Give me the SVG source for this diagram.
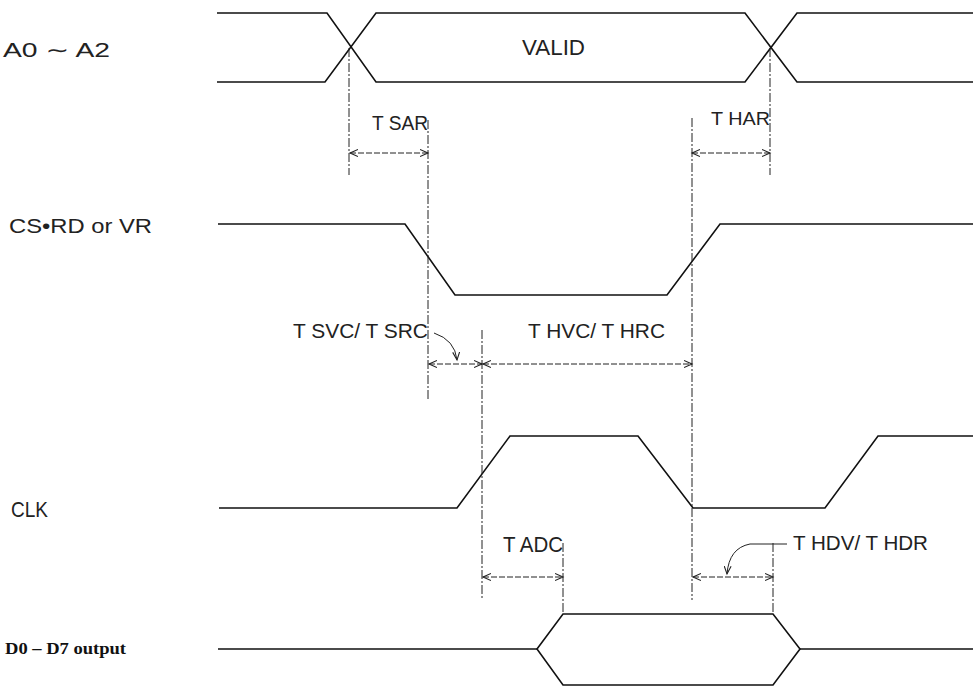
<svg xmlns="http://www.w3.org/2000/svg" width="973" height="686" viewBox="0 0 973 686">
<style>
.sig{fill:none;stroke:#111;stroke-width:1.6;stroke-linejoin:miter}
.ref{fill:none;stroke:#222;stroke-width:1;stroke-dasharray:9,2,2,2}
.dim{fill:none;stroke:#222;stroke-width:1;stroke-dasharray:6,2}
.lead{fill:none;stroke:#222;stroke-width:1}
.lbl{font-family:"Liberation Sans","DejaVu Sans",sans-serif;fill:#222}
.bold{font-family:"Liberation Serif","DejaVu Serif",serif;font-weight:bold;fill:#111}
</style>
<defs>
<marker id="ah" markerWidth="10" markerHeight="8" refX="8" refY="4" orient="auto-start-reverse" markerUnits="userSpaceOnUse">
<path d="M0,0.5 L8,4 L0,7.5" fill="none" stroke="#222" stroke-width="1.1"/>
</marker>
</defs>
<rect width="973" height="686" fill="#fff"/>

<g id="a0a2">
<text class="lbl" x="3" y="57" font-size="20" textLength="107" lengthAdjust="spacingAndGlyphs">A0 ∼ A2</text>
<path class="sig" d="M217,13 L327,13 L376,82 L745,82 L797,13 L973,13"/>
<path class="sig" d="M217,82 L325,82 L376,13 L745,13 L797,82 L973,82"/>
<text class="lbl" x="522" y="55" font-size="22" textLength="63" lengthAdjust="spacingAndGlyphs">VALID</text>
</g>

<g id="csrd">
<text class="lbl" x="9" y="233" font-size="21" textLength="143" lengthAdjust="spacingAndGlyphs">CS•RD or VR</text>
<path class="sig" d="M218,224 L405,224 L455,295 L667,295 L720,224 L973,224"/>
</g>

<g id="clk">
<text class="lbl" x="11" y="517" font-size="22" textLength="37" lengthAdjust="spacingAndGlyphs">CLK</text>
<path class="sig" d="M219,508 L457,508 L510,436 L638,436 L693,508 L825,508 L878,436 L973,436"/>
</g>

<g id="d0d7">
<text class="bold" x="5" y="654" font-size="16" textLength="121" lengthAdjust="spacingAndGlyphs">D0 – D7 output</text>
<path class="sig" d="M218,649 L537,649 M800,649 L973,649"/>
<path class="sig" d="M537,649 L563,614 L773,614 L800,649 L773,685 L563,685 Z"/>
</g>

<g id="connectors">
<line class="ref" x1="349" y1="48" x2="349" y2="175"/>
<line class="ref" x1="428" y1="120" x2="428" y2="400"/>
<line class="ref" x1="692" y1="118" x2="692" y2="600"/>
<line class="ref" x1="770" y1="48" x2="770" y2="175"/>
<line class="ref" x1="482" y1="330" x2="482" y2="600"/>
<line class="ref" x1="563" y1="543" x2="563" y2="613"/>
<line class="ref" x1="773" y1="543" x2="773" y2="613"/>

<line class="dim" x1="350" y1="153" x2="428" y2="153" marker-start="url(#ah)" marker-end="url(#ah)"/>
<line class="dim" x1="692" y1="153" x2="770" y2="153" marker-start="url(#ah)" marker-end="url(#ah)"/>
<line class="dim" x1="429" y1="364" x2="482" y2="364" marker-start="url(#ah)" marker-end="url(#ah)"/>
<line class="dim" x1="483" y1="364" x2="692" y2="364" marker-start="url(#ah)" marker-end="url(#ah)"/>
<line class="dim" x1="483" y1="577" x2="563" y2="577" marker-start="url(#ah)" marker-end="url(#ah)"/>
<line class="dim" x1="693" y1="577" x2="773" y2="577" marker-start="url(#ah)" marker-end="url(#ah)"/>

<path class="lead" d="M434,333 Q455,340 457,360" marker-end="url(#ah)"/>
<path class="lead" d="M787,544 L750,544 Q729,548 727,574" marker-end="url(#ah)"/>

<text class="lbl" x="372" y="130" font-size="20" textLength="56" lengthAdjust="spacingAndGlyphs">T SAR</text>
<text class="lbl" x="711" y="125" font-size="19" textLength="59" lengthAdjust="spacingAndGlyphs">T HAR</text>
<text class="lbl" x="293" y="338" font-size="21" textLength="135" lengthAdjust="spacingAndGlyphs">T SVC/ T SRC</text>
<text class="lbl" x="528" y="338" font-size="21" textLength="137" lengthAdjust="spacingAndGlyphs">T HVC/ T HRC</text>
<text class="lbl" x="503" y="552" font-size="22" textLength="60" lengthAdjust="spacingAndGlyphs">T ADC</text>
<text class="lbl" x="793" y="550" font-size="20" textLength="135" lengthAdjust="spacingAndGlyphs">T HDV/ T HDR</text>
</g>
</svg>
